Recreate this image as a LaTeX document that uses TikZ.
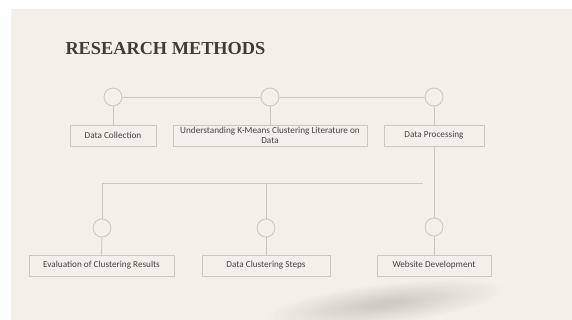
\documentclass[tikz,border=0pt]{standalone}
\usepackage{fontspec}
\setmainfont{Carlito}
\newfontfamily\titlefont{Liberation Serif}
\definecolor{slide}{HTML}{F3F0EA}
\definecolor{linegray}{HTML}{CCC7C0}
\definecolor{boxtext}{HTML}{48433E}
\definecolor{titletext}{HTML}{433C35}
\tikzset{
  stepbox/.style={draw=linegray, line width=0.8pt, minimum height=21pt, inner sep=1pt,
    align=center, text=boxtext, font=\fontsize{9.2}{10}\selectfont},
  ring/.style={circle, draw=linegray, line width=0.8pt, minimum size=18pt, inner sep=0pt},
  link/.style={draw=linegray, line width=0.8pt},
}
\begin{document}
\begin{tikzpicture}[x=1pt,y=-1pt]
  \useasboundingbox (0,0) rectangle (572,320);
  \fill[slide] (11,9) rectangle (572,320);

  % soft shadow at the foot of the slide
  \begin{scope}
    \clip (11,9) rectangle (572,320);
    \foreach \s in {1.0,0.95,...,0.1} {
      \fill[black, opacity=0.009, rotate around={7:(385,304)}] (385,304) ellipse ({118*\s} and {20*\s});
    }
  \end{scope}

  \node[anchor=west, text=titletext, font=\titlefont\bfseries\fontsize{18.3}{20}\selectfont] (title) at (62,49) {RESEARCH METHODS};

  % top row
  \node[ring] (c1) at (113,97) {};
  \node[ring] (c2) at (270,97) {};
  \node[ring] (c3) at (434,97) {};
  \node[stepbox, minimum width=86pt] (collect) at (113,135.5) {Data Collection};
  \node[stepbox, minimum width=194pt] (study) at (270,135.5) {Understanding K-Means Clustering Literature on\\Data};
  \node[stepbox, minimum width=100pt] (process) at (434,135.5) {Data Processing};

  % bottom row
  \coordinate (j4) at (102,183);
  \coordinate (j5) at (266,183);
  \coordinate (jend) at (423,183);
  \node[ring] (c4) at (102,228) {};
  \node[ring] (c5) at (266,228) {};
  \node[ring] (c6) at (434,227) {};
  \node[stepbox, minimum width=145pt] (evaluate) at (101.5,265.5) {Evaluation of Clustering Results};
  \node[stepbox, minimum width=128pt] (cluster) at (266,265.5) {Data Clustering Steps};
  \node[stepbox, minimum width=114pt] (website) at (434,265.5) {Website Development};

  % connectors
  \draw[link] (c1.east) -- (c2.west);
  \draw[link] (c2.east) -- (c3.west);
  \draw[link] (c1.south) -- (collect.north);
  \draw[link] (c2.south) -- (study.north);
  \draw[link] (c3.south) -- (process.north);
  \draw[link] (process.south) -- (c6.north);
  \draw[link] (j4) -- (jend);
  \draw[link] (j4) -- (c4.north);
  \draw[link] (j5) -- (c5.north);
  \draw[link] (c4.south) -- (evaluate.north);
  \draw[link] (c5.south) -- (cluster.north);
  \draw[link] (c6.south) -- (website.north);
\end{tikzpicture}
\end{document}
